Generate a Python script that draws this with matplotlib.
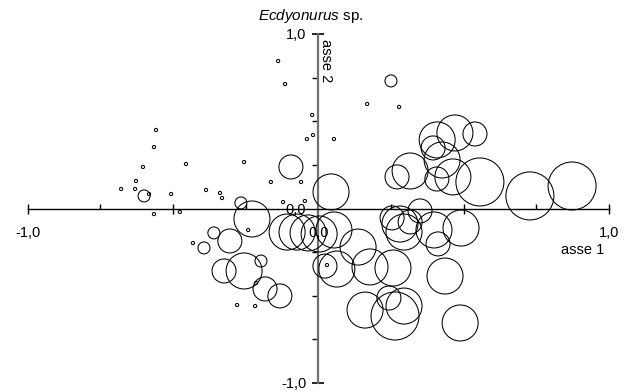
import matplotlib
matplotlib.use('Agg')
import matplotlib.pyplot as plt

plt.rcParams['font.family'] = ['Liberation Sans', 'DejaVu Sans']
plt.rcParams['mathtext.fontset'] = 'custom'
plt.rcParams['mathtext.rm'] = 'Liberation Sans'
plt.rcParams['mathtext.it'] = 'Liberation Sans:italic'

# site scores on the two axes and abundance class of Ecdyonurus sp.
asse1 = [-0.138, -0.114, -0.021, -0.018, -0.039, 0.054, 0.168, 0.278, -0.558, -0.565,
         -0.603, -0.455, -0.255, -0.163, -0.059, -0.627, -0.678, -0.630, -0.582, -0.506,
         -0.386, -0.338, -0.331, -0.565, -0.476, -0.121, -0.046, -0.241, -0.431, -0.279,
         -0.217, 0.030, -0.214,
         -0.599, -0.266, -0.359, -0.393, -0.197, 0.250,
         -0.094, -0.304, -0.324, -0.183, -0.132, 0.023, 0.539, 0.395, 0.271, 0.408,
         0.243, 0.316, 0.350, 0.412, 0.254,
         -0.228, -0.255, 0.044, 0.470, 0.409, 0.426, 0.316, 0.463, -0.107, -0.073,
         -0.035, 0.054, 0.064, 0.137, 0.178, 0.257, 0.161, 0.295, 0.436, 0.488,
         0.281, 0.295, 0.398, 0.491, 0.003,
         0.556, 0.728, 0.873, 0.264]
asse2 = [0.845, 0.713, 0.536, 0.421, 0.398, 0.398, 0.599, 0.582, 0.450, 0.352,
         0.238, 0.255, 0.266, 0.152, 0.152, 0.158, 0.112, 0.112, 0.083, 0.083,
         0.106, 0.089, 0.060, -0.032, -0.020, 0.037, 0.043, -0.123, -0.198, -0.553,
         -0.559, -0.324, -0.427,
         0.072, 0.032, -0.140, -0.226, -0.301, 0.731,
         0.238, -0.186, -0.358, -0.461, -0.501, -0.330, 0.427, 0.347, 0.181, 0.169,
         -0.513, -0.077, -0.014, -0.203, -0.054,
         -0.060, -0.358, 0.095, 0.433, 0.393, 0.278, 0.215, 0.181, -0.135, -0.135,
         -0.140, -0.123, -0.347, -0.221, -0.335, -0.341, -0.582, -0.559, -0.387, -0.656,
         -0.089, -0.135, -0.123, -0.112, -0.146,
         0.152, 0.072, 0.129, -0.616]
classe = [0] * 33 + [1] * 6 + [2] * 15 + [3] * 25 + [4] * 4

xlabels = ['-1,0', '0,0', '1,0']
ylabels = ['-1,0', '0,0', '1,0']

# radius in pixels for each class -> marker area in points^2
raggio = [1.6 if c == 0 else 6.0 * c for c in classe]
area = [(2 * r * 0.72) ** 2 for r in raggio]

fig = plt.figure(figsize=(6.34, 3.92), dpi=100)
ax = fig.add_axes([27.5 / 634, 9 / 392, 581.5 / 634, 349 / 392])
ax.set_xlim(-1, 1)
ax.set_ylim(-1, 1)

ax.scatter(asse1, asse2, s=area, facecolors='none', edgecolors='black',
           linewidths=0.75, clip_on=False, zorder=3)

# axes crossing at the origin
ax.spines['left'].set_position('zero')
ax.spines['bottom'].set_position('zero')
ax.spines['right'].set_visible(False)
ax.spines['top'].set_visible(False)
ax.spines['bottom'].set_linewidth(1.0)
ax.spines['left'].set_color('#707070')
ax.spines['left'].set_linewidth(1.6)

ax.set_xticks([-1, -0.5, 0.5, 1])
ax.set_xticks([-0.75, -0.25, 0.25, 0.75], minor=True)
ax.set_yticks([-1, 1])
ax.set_yticks([-0.75, -0.5, -0.25, 0.25, 0.5, 0.75], minor=True)
ax.tick_params(axis='x', which='major', direction='inout', length=7, width=1,
               labelbottom=False)
ax.tick_params(axis='x', which='minor', direction='in', length=3.5, width=1)
ax.tick_params(axis='y', which='major', direction='inout', length=8, width=1.2,
               labelleft=False)
ax.tick_params(axis='y', which='minor', direction='out', length=4.5, width=1)

for v, t in zip([-1, 0, 1], xlabels):
    ax.annotate(t, xy=(v, 0), xytext=(0, -24.5), textcoords='offset pixels',
                ha='center', va='center', fontsize=10.5, zorder=4)
for v, t in zip([-1, 0, 1], ylabels):
    ax.annotate(t, xy=(0, v), xytext=(-12, -1), textcoords='offset pixels',
                ha='right', va='center', fontsize=10.5, zorder=4)

ax.annotate('asse 1', xy=(1, 0), xytext=(-5, -41.5), textcoords='offset pixels',
            ha='right', va='center', fontsize=10.5)
ax.annotate('asse 2', xy=(0, 1), xytext=(7.5, -27), textcoords='offset pixels',
            ha='center', va='center', fontsize=10.5, rotation=270)

fig.text(311 / 634, 1 - 16 / 392, r'$\it{Ecdyonurus}$ sp.', ha='center',
         va='center', fontsize=11)

fig.savefig('out.png', dpi=100)
